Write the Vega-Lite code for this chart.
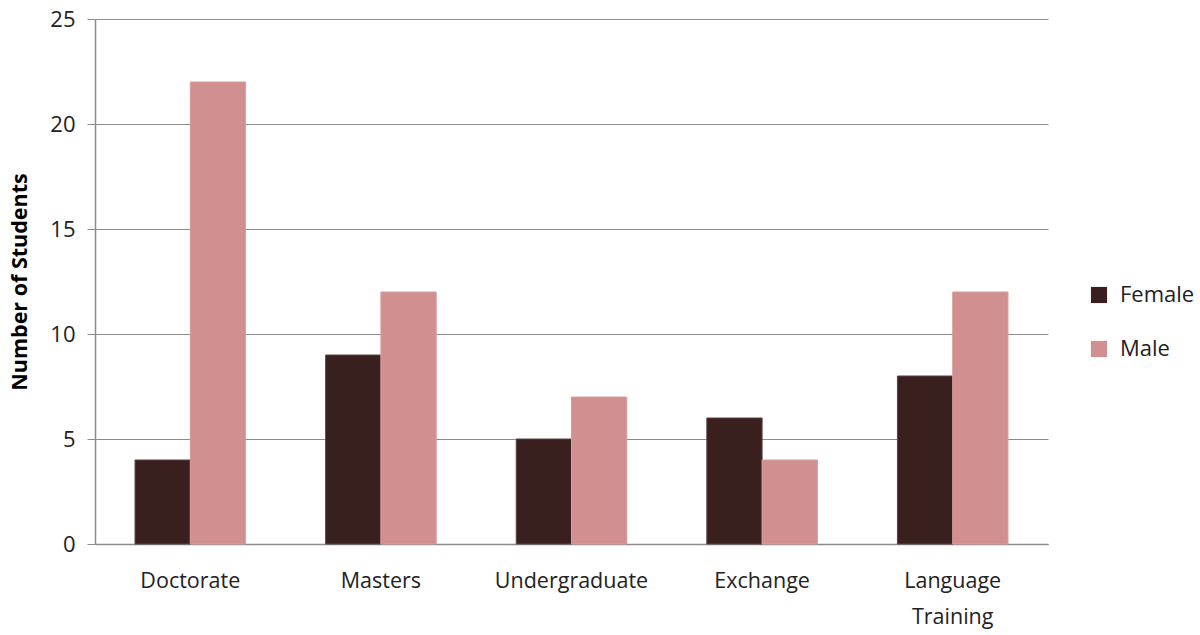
{
  "$schema": "https://vega.github.io/schema/vega-lite/v6.json",
  "width": 953,
  "height": 525,
  "autosize": {"type": "none"},
  "padding": {"left": 95, "top": 19, "right": 152, "bottom": 91},
  "background": "white",
  "config": {
    "font": "Open Sans",
    "view": {"stroke": null}
  },
  "data": {
    "values": [
      {"program": "Doctorate", "gender": "Female", "students": 4},
      {"program": "Doctorate", "gender": "Male", "students": 22},
      {"program": "Masters", "gender": "Female", "students": 9},
      {"program": "Masters", "gender": "Male", "students": 12},
      {"program": "Undergraduate", "gender": "Female", "students": 5},
      {"program": "Undergraduate", "gender": "Male", "students": 7},
      {"program": "Exchange", "gender": "Female", "students": 6},
      {"program": "Exchange", "gender": "Male", "students": 4},
      {"program": "Language Training", "gender": "Female", "students": 8},
      {"program": "Language Training", "gender": "Male", "students": 12}
    ]
  },
  "mark": {"type": "bar", "strokeWidth": 1},
  "encoding": {
    "x": {
      "field": "program",
      "type": "nominal",
      "sort": ["Doctorate", "Masters", "Undergraduate", "Exchange", "Language Training"],
      "scale": {"paddingInner": 0.42, "paddingOuter": 0.21},
      "axis": {
        "title": null,
        "labelAngle": 0,
        "labelFontSize": 21.5,
        "labelColor": "#222222",
        "labelPadding": 26,
        "labelLineHeight": 36,
        "ticks": false,
        "domainColor": "#8c8c8c",
        "domainWidth": 1.5,
        "labelExpr": "datum.label == 'Language Training' ? ['Language', 'Training'] : datum.label"
      }
    },
    "xOffset": {"field": "gender", "type": "nominal", "sort": ["Female", "Male"], "scale": {"paddingInner": 0}},
    "y": {
      "field": "students",
      "type": "quantitative",
      "scale": {"domain": [0, 25], "nice": false},
      "axis": {
        "title": "Number of Students",
        "titleFontSize": 21.5,
        "titleFontWeight": "bold",
        "titleColor": "#000000",
        "titlePadding": 18,
        "values": [0, 5, 10, 15, 20, 25],
        "labelFontSize": 22,
        "labelColor": "#222222",
        "labelPadding": 12,
        "tickSize": 8,
        "tickColor": "#8c8c8c",
        "domainColor": "#8c8c8c",
        "domainWidth": 1.5,
        "gridColor": "#8c8c8c",
        "gridWidth": 1
      }
    },
    "color": {
      "field": "gender",
      "type": "nominal",
      "sort": ["Female", "Male"],
      "scale": {"domain": ["Female", "Male"], "range": ["#3a1f1f", "#d18f8f"]},
      "legend": {
        "title": null,
        "orient": "none",
        "legendX": 993,
        "legendY": 265,
        "symbolType": "square",
        "symbolSize": 260,
        "symbolStrokeWidth": 0,
        "labelFontSize": 22,
        "labelColor": "#222222",
        "labelOffset": 10,
        "rowPadding": 32
      }
    },
    "stroke": {
      "field": "gender",
      "type": "nominal",
      "scale": {"domain": ["Female", "Male"], "range": ["#5a4444", "#d89c9c"]},
      "legend": null
    }
  }
}
